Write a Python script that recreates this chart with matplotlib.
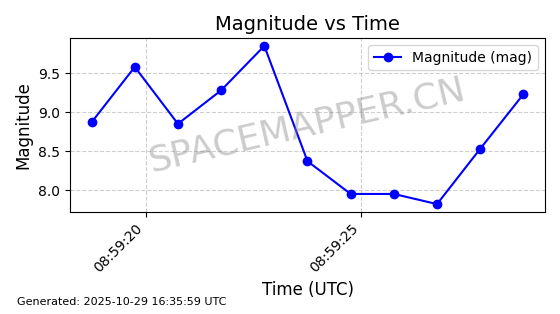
import numpy as np
import pandas as pd
import matplotlib
matplotlib.use("Agg")
import matplotlib.pyplot as plt
import matplotlib.dates as mdates

times = pd.to_datetime([
    "2025-10-29 08:59:18.75", "2025-10-29 08:59:19.75", "2025-10-29 08:59:20.75",
    "2025-10-29 08:59:21.75", "2025-10-29 08:59:22.75", "2025-10-29 08:59:23.75",
    "2025-10-29 08:59:24.75", "2025-10-29 08:59:25.75", "2025-10-29 08:59:26.75",
    "2025-10-29 08:59:27.75", "2025-10-29 08:59:28.75",
])
mags = [8.87, 9.58, 8.85, 9.28, 9.85, 8.37, 7.95, 7.95, 7.82, 8.53, 9.23]
tick_times = pd.to_datetime(["2025-10-29 08:59:20", "2025-10-29 08:59:25"])

fig = plt.figure(figsize=(5.6, 3.14), dpi=100)
ax = fig.add_axes([70 / 560, 1 - 212 / 314, 475 / 560, 174 / 314])
ax.plot(times, mags, "o-", color="blue", label="Magnitude (mag)")
ax.set_xticks(tick_times)
ax.xaxis.set_major_formatter(mdates.DateFormatter("%H:%M:%S"))
plt.setp(ax.get_xticklabels(), rotation=45, ha="right")
ax.set_yticks([8.0, 8.5, 9.0, 9.5])
ax.grid(True, linestyle="--", alpha=0.6)
ax.set_title("Magnitude vs Time", fontsize=14)
ax.set_xlabel("Time (UTC)", fontsize=12)
ax.set_ylabel("Magnitude", fontsize=12)
ax.legend(loc="upper right")

# watermark
fig.text(0.548, 0.6, "SPACEMAPPER.CN", fontsize=26, color="gray", alpha=0.4,
         rotation=13, ha="center", va="center")
fig.text(17 / 560, 1 - 305 / 314, "Generated: 2025-10-29 16:35:59 UTC", fontsize=8)

fig.savefig("out.png", dpi=100)
